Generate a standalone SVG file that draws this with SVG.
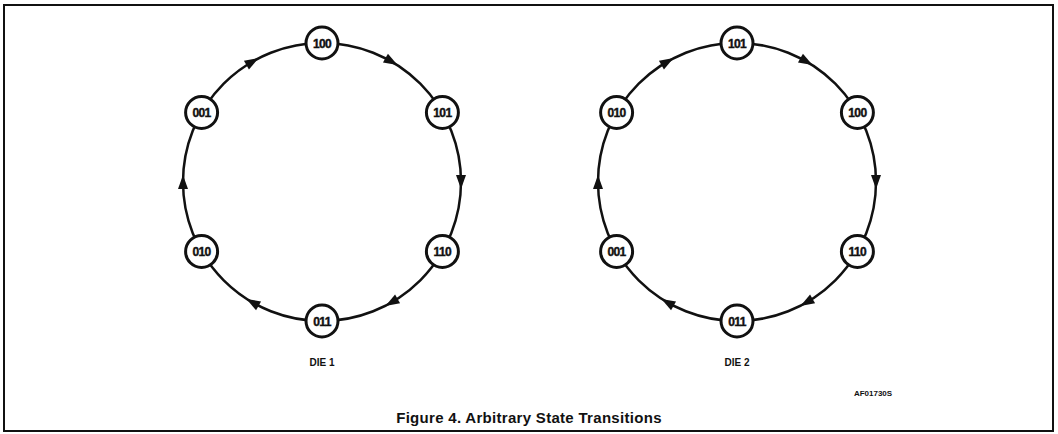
<svg xmlns="http://www.w3.org/2000/svg" xmlns:xlink="http://www.w3.org/1999/xlink" width="1058" height="434" viewBox="0 0 1058 434">
<style>
.frame{fill:none;stroke:#111;stroke-width:2}
.ring{fill:none;stroke:#111;stroke-width:2.5}
.node circle{fill:#fff;stroke:#111;stroke-width:3}
.node text{font-family:"Liberation Sans",Arial,sans-serif;font-weight:bold;font-size:12px;letter-spacing:-0.6px;text-anchor:middle;fill:#111;stroke:#111;stroke-width:0.4}
.lbl{font-family:"Liberation Sans",Arial,sans-serif;font-weight:bold;fill:#111;text-anchor:middle}
.ah{fill:#111}
</style>
<defs>
<path id="ah" class="ah" d="M7,0 L-7,-5 L-7,5 Z"/>
</defs>
<rect class="frame" x="4" y="5" width="1049" height="426"/>
<g id="connectors">
<circle class="ring" cx="322" cy="182" r="139"/>
<use href="#ah" transform="rotate(0 322 182) translate(461 182) rotate(90)"/>
<use href="#ah" transform="rotate(60 322 182) translate(461 182) rotate(90)"/>
<use href="#ah" transform="rotate(120 322 182) translate(461 182) rotate(90)"/>
<use href="#ah" transform="rotate(180 322 182) translate(461 182) rotate(90)"/>
<use href="#ah" transform="rotate(240 322 182) translate(461 182) rotate(90)"/>
<use href="#ah" transform="rotate(300 322 182) translate(461 182) rotate(90)"/>
<circle class="ring" cx="737" cy="182" r="139"/>
<use href="#ah" transform="rotate(0 737 182) translate(876 182) rotate(90)"/>
<use href="#ah" transform="rotate(60 737 182) translate(876 182) rotate(90)"/>
<use href="#ah" transform="rotate(120 737 182) translate(876 182) rotate(90)"/>
<use href="#ah" transform="rotate(180 737 182) translate(876 182) rotate(90)"/>
<use href="#ah" transform="rotate(240 737 182) translate(876 182) rotate(90)"/>
<use href="#ah" transform="rotate(300 737 182) translate(876 182) rotate(90)"/>
</g>
<g id="d1-100" class="node"><circle cx="322" cy="43" r="16"/><text x="322" y="47.5">100</text></g>
<g id="d1-101" class="node"><circle cx="442.4" cy="112.5" r="16"/><text x="442.4" y="117">101</text></g>
<g id="d1-110" class="node"><circle cx="442.4" cy="251.5" r="16"/><text x="442.4" y="256">110</text></g>
<g id="d1-011" class="node"><circle cx="322" cy="321" r="16"/><text x="322" y="325.5">011</text></g>
<g id="d1-010" class="node"><circle cx="201.6" cy="251.5" r="16"/><text x="201.6" y="256">010</text></g>
<g id="d1-001" class="node"><circle cx="201.6" cy="112.5" r="16"/><text x="201.6" y="117">001</text></g>
<g id="d2-101" class="node"><circle cx="737" cy="43" r="16"/><text x="737" y="47.5">101</text></g>
<g id="d2-100" class="node"><circle cx="857.4" cy="112.5" r="16"/><text x="857.4" y="117">100</text></g>
<g id="d2-110" class="node"><circle cx="857.4" cy="251.5" r="16"/><text x="857.4" y="256">110</text></g>
<g id="d2-011" class="node"><circle cx="737" cy="321" r="16"/><text x="737" y="325.5">011</text></g>
<g id="d2-001" class="node"><circle cx="616.6" cy="251.5" r="16"/><text x="616.6" y="256">001</text></g>
<g id="d2-010" class="node"><circle cx="616.6" cy="112.5" r="16"/><text x="616.6" y="117">010</text></g>
<text class="lbl" x="322" y="366" font-size="10">DIE 1</text>
<text class="lbl" x="737" y="366" font-size="10">DIE 2</text>
<text class="lbl" x="873" y="396" font-size="8">AF01730S</text>
<text class="lbl" x="529" y="423" font-size="15" letter-spacing="0.3">Figure 4. Arbitrary State Transitions</text>
</svg>
